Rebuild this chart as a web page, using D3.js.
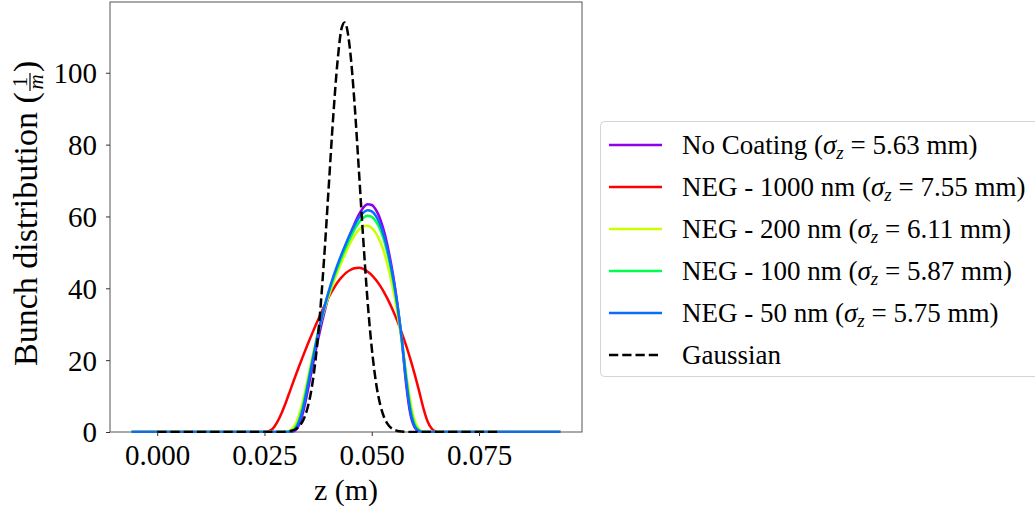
<!DOCTYPE html>
<html><head><meta charset="utf-8">
<script src="https://cdn.jsdelivr.net/npm/d3@7"></script>
<style>body{margin:0;background:#fff}svg{display:block}</style>
</head><body><svg id="c" width="1035" height="515"></svg>
<script>
// ---------------- data ----------------
const zStart = -0.006, zEnd = 0.094;   // extent of the simulated profiles (m)
const zGrid = [0.025,0.026,0.027,0.028,0.029,0.030,0.031,0.032,0.033,0.034,0.035,0.036,0.037,0.038,0.039,0.040,0.041,0.042,0.043,0.044,0.045,0.046,0.047,0.048,0.049,0.050,0.051,0.052,0.053,0.054,0.055,0.056,0.057,0.058,0.059,0.060,0.061,0.062,0.063,0.064,0.065,0.066];
const noCoating = [0,0,0,0,0,0,0,0.3,1.8,5.5,11,17,23,28.5,33.5,38,42,45.7,49,52.2,55.2,58,60.5,62.4,63.4,63.2,61.8,59.2,55.3,50,43.5,35.5,25.5,13.5,5,1.3,0.2,0,0,0,0,0];
const neg1000  = [0,0.2,1.0,2.8,5.3,8.3,11.6,14.9,18.1,21.2,24.2,27.1,29.9,32.6,35.2,37.6,39.7,41.6,43.1,44.3,45.1,45.6,45.7,45.4,44.7,43.7,42.3,40.6,38.6,36.3,33.7,30.8,27.6,24.1,20.3,16.1,11.6,6.8,3.0,0.9,0.15,0];
const neg200   = [0,0,0,0,0,0.1,0.5,1.7,4.5,8.9,14.3,20,25.3,30.1,34.3,38,41.4,44.5,47.4,50.1,52.6,54.7,56.3,57.3,57.4,56.8,55.3,52.9,49.5,45,39.5,33,25.2,16.5,8.5,3.2,0.8,0.1,0,0,0,0];
const neg100   = [0,0,0,0,0,0,0.2,0.9,3.2,7.5,13.2,19.2,25,30.3,34.8,38.8,42.4,45.7,48.7,51.5,54.1,56.4,58.3,59.6,60.2,59.9,58.6,56.3,52.8,48,42,34.8,26,15.5,6.8,2.1,0.4,0,0,0,0,0];
const neg50    = [0,0,0,0,0,0,0.1,0.6,2.6,6.6,12.3,18.5,24.6,30.2,35,39.3,43.1,46.5,49.6,52.5,55.2,57.6,59.6,61,61.7,61.4,60.1,57.7,54,49,42.8,35.2,25.8,14.5,5.8,1.6,0.3,0,0,0,0,0];
const gaussZ   = [0,0.025,0.026,0.027,0.028,0.029,0.030,0.031,0.032,0.033,0.034,0.035,0.036,0.037,0.038,0.039,0.040,0.041,0.042,0.043,0.0437,0.044,0.045,0.046,0.047,0.048,0.049,0.050,0.051,0.052,0.053,0.054,0.055,0.056,0.057,0.058,0.059,0.060,0.080];
const gaussian = [0,0,0,0,0,0.02,0.09,0.25,0.63,1.48,3.23,6.53,12.2,21.1,33.8,50.1,68.8,87.4,102.8,112.5,114,113.4,105.7,91.3,72.9,54,36.9,23.4,13.7,7.45,3.74,1.74,0.75,0.3,0.11,0.04,0,0,0];

const seriesNames  = ["No Coating","NEG - 1000 nm","NEG - 200 nm","NEG - 100 nm","NEG - 50 nm"];
const seriesSigmas = ["5.63","7.55","6.11","5.87","5.75"];
const seriesColors = ["#9000ec","#ff0000","#ccff00","#00ff4c","#0a6cff"];
const gaussName = "Gaussian";
const xTicks = [0,0.025,0.05,0.075];
const xTickLabels = ["0.000","0.025","0.050","0.075"];
const yTicks = [0,20,40,60,80,100];
const xLabel = "z (m)";
const yLabelText = "Bunch distribution (";

// ---------------- layout ----------------
const svg = d3.select("#c");
const P = {l:110, r:582, t:2, b:432};
const span = zEnd - zStart;
const x = d3.scaleLinear().domain([zStart - 0.05*span, zEnd + 0.05*span]).range([P.l, P.r]);
const y = d3.scaleLinear().domain([0, d3.max(gaussian)*1.05]).range([P.b, P.t]);
const SERIF = "'Liberation Serif','Times New Roman',serif";

const allSeries = [noCoating, neg1000, neg200, neg100, neg50].map((vals,i)=>{
  const pts = [[zStart,0]].concat(zGrid.map((z,j)=>[z, vals[j]])).concat([[zEnd,0]]);
  return {pts, color: seriesColors[i], name: seriesNames[i], sigma: seriesSigmas[i]};
});
const gaussPts = gaussZ.map((z,j)=>[z, gaussian[j]]);

const line = d3.line().x(d=>x(d[0])).y(d=>y(d[1])).curve(d3.curveMonotoneX);

// frame (drawn first, curves on top)
svg.append("rect").attr("x",P.l).attr("y",P.t).attr("width",P.r-P.l).attr("height",P.b-P.t)
  .attr("fill","none").attr("stroke","#555").attr("stroke-width",1);

const plot = svg.append("g");
plot.append("defs").append("clipPath").attr("id","clip")
  .append("rect").attr("x",P.l).attr("y",P.t).attr("width",P.r-P.l).attr("height",P.b-P.t+1);
const lines = plot.append("g").attr("clip-path","url(#clip)");
allSeries.forEach(s=>{
  lines.append("path").attr("d", line(s.pts)).attr("fill","none")
    .attr("stroke", s.color).attr("stroke-width",2.5).attr("stroke-linejoin","round");
});
lines.append("path").attr("d", line(gaussPts)).attr("fill","none")
  .attr("stroke","#000").attr("stroke-width",2.5).attr("stroke-dasharray","9.25,4");

// axes
const xAxis = svg.append("g").attr("transform",`translate(0,${P.b})`)
  .call(d3.axisBottom(x).tickValues(xTicks).tickFormat((d,i)=>xTickLabels[i]).tickSize(4));
xAxis.select(".domain").remove();
xAxis.selectAll("line").attr("stroke","#333");
xAxis.selectAll("text").attr("y",33).attr("dy",null)
  .style("font-family",SERIF).style("font-size","29px").attr("fill","#000");

const yAxis = svg.append("g").attr("transform",`translate(${P.l},0)`)
  .call(d3.axisLeft(y).tickValues(yTicks).tickSize(4));
yAxis.select(".domain").remove();
yAxis.selectAll("line").attr("stroke","#333");
yAxis.selectAll("text").attr("x",-13).attr("dy","0.34em")
  .style("font-family",SERIF).style("font-size","29px").attr("fill","#000");

// x label
svg.append("text").attr("x",(P.l+P.r)/2).attr("y",500).attr("text-anchor","middle")
  .style("font-family",SERIF).style("font-size","30px").text(xLabel);

// y label with fraction
const yl = svg.append("g").attr("transform","translate(37,366) rotate(-90)");
const t1 = yl.append("text").attr("x",0).attr("y",0)
  .style("font-family",SERIF).style("font-size","34px").text(yLabelText);
const w1 = t1.node().getComputedTextLength();
const fx = w1 + 1;
const num = yl.append("text").attr("y",-10).style("font-family",SERIF).style("font-size","21px").text("1");
const den = yl.append("text").attr("y",6).style("font-family",SERIF).style("font-size","21px")
  .style("font-style","italic").text("m");
const wn = num.node().getComputedTextLength(), wd = den.node().getComputedTextLength();
const fw = Math.max(wn,wd) + 3;
num.attr("x", fx + (fw-wn)/2);
den.attr("x", fx + (fw-wd)/2);
yl.append("line").attr("x1",fx).attr("x2",fx+fw).attr("y1",-7).attr("y2",-7)
  .attr("stroke","#000").attr("stroke-width",1.2);
yl.append("text").attr("x",fx+fw+1).attr("y",0)
  .style("font-family",SERIF).style("font-size","34px").text(")");

// legend
const lg = svg.append("g");
lg.append("rect").attr("x",600.5).attr("y",121.5).attr("width",460).attr("height",255)
  .attr("rx",4).attr("fill","#fff").attr("stroke","#d4d4d4").attr("stroke-width",1);
const entries = allSeries.map(s=>({color:s.color, name:s.name, sigma:s.sigma, dash:null}))
  .concat([{color:"#000", name:gaussName, sigma:null, dash:"9.25,4"}]);
entries.forEach((e,i)=>{
  const cy = 145 + i*42;
  lg.append("line").attr("x1",609).attr("x2",662).attr("y1",cy).attr("y2",cy)
    .attr("stroke",e.color).attr("stroke-width",2.5).attr("stroke-dasharray",e.dash);
  const t = lg.append("text").attr("x",682).attr("y",cy+9)
    .style("font-family",SERIF).style("font-size","27px");
  if (e.sigma) {
    t.append("tspan").text(e.name + " (");
    t.append("tspan").style("font-style","italic").text("σ");
    t.append("tspan").style("font-style","italic").style("font-size","19px").attr("dy",5).text("z");
    t.append("tspan").attr("dy",-5).text(" = " + e.sigma + " mm)");
  } else {
    t.text(e.name);
  }
});
</script></body></html>
